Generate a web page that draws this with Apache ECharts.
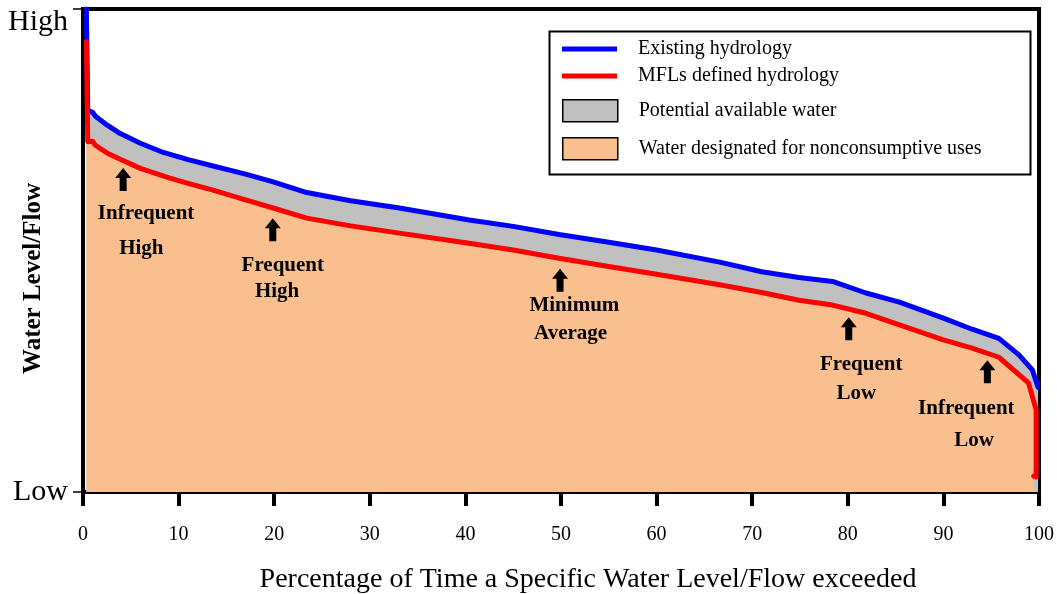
<!DOCTYPE html>
<html>
<head>
<meta charset="utf-8">
<script src="https://cdn.jsdelivr.net/npm/echarts@6/dist/echarts.min.js"></script>
<style>html,body{margin:0;padding:0;background:#fff}#c{width:1057px;height:594px}</style>
</head>
<body>
<div id="c"></div>
<script>
// Existing hydrology (blue) [percent exceeded, relative level 0=Low..100=High]
var existingHydrology = [[0.35,100],[0.5,79],[1.0,78.6],[1.3,77.8],[2.5,76],[3.9,74.2],[6,72.2],[8.4,70.3],[11,68.8],[13.6,67.5],[17,65.8],[19.9,64.2],[23.4,62.0],[28,60.3],[33.1,58.8],[40.4,56.3],[45,55],[49.8,53.3],[55,51.7],[60,50.1],[66.6,47.6],[71,45.6],[74.9,44.4],[78.4,43.6],[81.9,41.2],[85.4,39.3],[90,36.0],[93,33.7],[95.8,31.8],[97.9,28.4],[99.3,25.3],[99.9,21.7]];
// MFLs defined hydrology (red)
var mflHydrology = [[0.35,93.2],[0.5,72.5],[1.0,72.6],[1.3,71.8],[2.5,70.2],[3.9,68.9],[6,67],[9.1,65.0],[11,63.9],[13.6,62.5],[17,60.5],[19.9,58.8],[23.4,56.7],[28,55.1],[33.1,53.6],[40.4,51.5],[45,50.1],[49.8,48.4],[55,46.7],[60,45.1],[66.6,42.9],[71,41.3],[74.9,39.7],[78.4,38.7],[81.9,37.0],[85.4,34.6],[90,31.5],[93,29.8],[95.8,27.9],[98.9,22.6],[99.5,18.4],[99.7,17],[99.7,3.1],[99.5,2.7],[99.45,3.3]];
// Flow-regime arrows [x, tip level]
var arrowPoints = [[4.2,67.1],[19.85,56.7],[49.9,46.2],[80.1,36.2],[94.6,27.3]];
// Annotation texts [x, level, text]
var annotationTexts = [[6.6,57.6,'Infrequent'],[6.1,50.5,'High'],[20.9,46.8,'Frequent'],[20.3,41.4,'High'],[51.4,38.7,'Minimum'],[51.0,32.9,'Average'],[81.4,26.3,'Frequent'],[80.9,20.3,'Low'],[92.4,17.2,'Infrequent'],[93.2,10.6,'Low']];
var xTicks = [0,10,20,30,40,50,60,70,80,90,100];
var yTickLabels = {0:'Low',100:'High'};
var legendNames = ['Existing hydrology','MFLs defined hydrology','Potential available water','Water designated for nonconsumptive uses'];

var FONT = '"Liberation Serif","Times New Roman",serif';
var chart = echarts.init(document.getElementById('c'));
var legendTops = [50,77,110,148];
var legendIcons = [
  {icon:'path://M0 0H55V5H0Z', itemStyle:{color:'#0000ff',borderWidth:0}},
  {icon:'path://M0 0H55V5H0Z', itemStyle:{color:'#ff0000',borderWidth:0}},
  {icon:'rect', itemStyle:{color:'#c0c0c0',borderColor:'#000',borderWidth:1.5}},
  {icon:'rect', itemStyle:{color:'#f9bf8f',borderColor:'#000',borderWidth:1.5}}
];
var legends = legendNames.map(function(n,i){
  return {
    left:562, top:legendTops[i]-11, padding:0, orient:'vertical',
    itemWidth:55, itemHeight:22, selectedMode:false,
    textStyle:{fontFamily:FONT,fontSize:20,color:'#000',padding:[0,0,0,16]},
    data:[Object.assign({name:n}, legendIcons[i])]
  };
});

chart.setOption({
  animation:false,
  backgroundColor:'#fff',
  legend:legends,
  graphic:[{type:'rect',left:547,top:29,shape:{width:481,height:143},style:{fill:'none',stroke:'#000',lineWidth:2},z:100}],
  grid:{left:83,right:18,top:9,bottom:102,containLabel:false,outerBoundsMode:'none',show:true,borderColor:'#000',borderWidth:4,backgroundColor:'transparent'},
  xAxis:{
    type:'value',min:0,max:100,interval:10,
    name:'Percentage of Time a Specific Water Level/Flow exceeded',
    nameLocation:'middle',nameGap:74,nameMoveOverlap:false,
    nameTextStyle:{fontFamily:FONT,fontSize:28,color:'#000',padding:[0,0,0,54]},
    axisLine:{show:true,lineStyle:{color:'#000',width:4}},
    axisTick:{show:true,length:14,lineStyle:{color:'#000',width:4}},
    axisLabel:{fontFamily:FONT,fontSize:20,color:'#000',margin:33},
    splitLine:{show:false}
  },
  yAxis:{
    type:'value',min:0,max:100,interval:100,
    name:'Water Level/Flow',nameLocation:'middle',nameGap:37,nameRotate:90,nameMoveOverlap:false,
    nameTextStyle:{fontFamily:FONT,fontSize:25,fontWeight:'bold',color:'#000',padding:[0,56,0,0]},
    axisLine:{show:true,lineStyle:{color:'#000',width:4}},
    axisTick:{show:true,length:10,lineStyle:{color:'#000',width:1.5}},
    axisLabel:{fontFamily:FONT,fontSize:30,color:'#000',margin:15,
      formatter:function(v){return v===100?'{hi|'+yTickLabels[v]+'}':yTickLabels[v];},
      rich:{hi:{fontFamily:FONT,fontSize:30,color:'#000',padding:[26,0,0,0]}}},
    splitLine:{show:false}
  },
  series:[
    {name:legendNames[2],type:'line',data:existingHydrology,showSymbol:false,silent:true,
      lineStyle:{width:0},itemStyle:{color:'#c0c0c0'},areaStyle:{color:'#c0c0c0',opacity:1,origin:'start'}},
    {name:legendNames[3],type:'line',data:mflHydrology,showSymbol:false,silent:true,
      lineStyle:{width:0},itemStyle:{color:'#f9bf8f'},areaStyle:{color:'#f9bf8f',opacity:1,origin:'start'}},
    {name:legendNames[0],type:'line',data:existingHydrology,showSymbol:false,silent:true,
      itemStyle:{color:'#0000ff'},lineStyle:{color:'#0000ff',width:5,cap:'round',join:'round'}},
    {name:legendNames[1],type:'line',data:mflHydrology,showSymbol:false,silent:true,
      itemStyle:{color:'#ff0000'},lineStyle:{color:'#ff0000',width:5,cap:'round',join:'round'}},
    {name:'arrows',type:'scatter',silent:true,data:arrowPoints,
      symbol:'path://M8 0L16 10L11.5 10L11.5 23L4.5 23L4.5 10L0 10Z',
      symbolSize:[16,23],symbolOffset:[0,'50%'],itemStyle:{color:'#000',opacity:1},z:5},
    {name:'labels',type:'scatter',silent:true,
      data:annotationTexts.map(function(t){return {value:[t[0],t[1]],name:t[2]};}),
      symbolSize:1,itemStyle:{color:'rgba(0,0,0,0)'},z:6,
      label:{show:true,position:'inside',formatter:function(p){return p.name;},
        fontFamily:FONT,fontSize:21,fontWeight:'bold',color:'#000',textBorderWidth:0,opacity:1}}
  ]
});
</script>
</body>
</html>
